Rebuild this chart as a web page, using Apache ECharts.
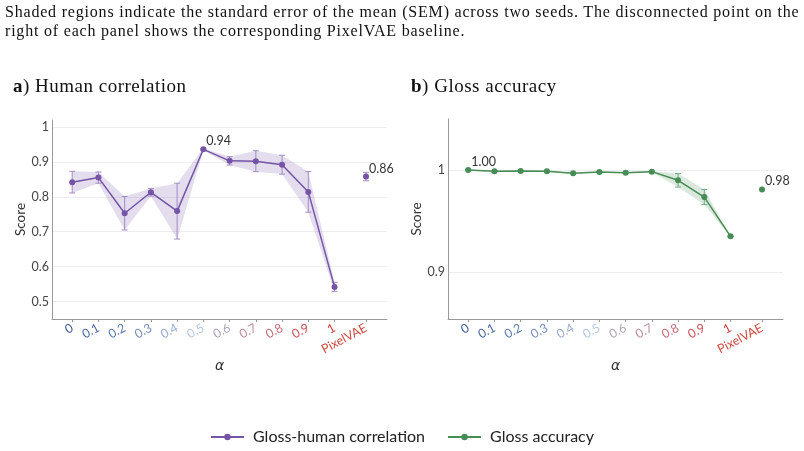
<!DOCTYPE html>
<html>
<head>
<meta charset="utf-8">
<script src="https://cdn.jsdelivr.net/npm/echarts@6/dist/echarts.min.js"></script>
<style>
  html, body { margin: 0; padding: 0; background: #fff; }
  #wrap { position: relative; width: 804px; height: 451px; }
  #chart { position: absolute; left: 0; top: 0; width: 804px; height: 451px; }
  .cap { position: absolute; left: 5px; top: 2px; font-family: 'Liberation Serif'; font-size: 16px;
    line-height: 19px; letter-spacing: 0.8px; color: #111; white-space: nowrap; }
  .ptitle { position: absolute; top: 75px; font-family: 'Liberation Serif'; font-size: 19px;
    letter-spacing: 0.5px; color: #111; white-space: nowrap; }
</style>
</head>
<body>
<div id="wrap">
  <div id="chart"></div>
  <div class="cap">Shaded regions indicate the standard error of the mean (SEM) across two seeds. The disconnected point on the<br>right of each panel shows the corresponding PixelVAE baseline.</div>
  <div class="ptitle" style="left:13px"><b>a</b>) Human correlation</div>
  <div class="ptitle" style="left:411px"><b>b</b>) Gloss accuracy</div>
</div>
<script>
// alpha values and tick labels
const alphas = [0, 0.1, 0.2, 0.3, 0.4, 0.5, 0.6, 0.7, 0.8, 0.9, 1];
const pixelX = 1.12;
const xTicks = [0, 0.1, 0.2, 0.3, 0.4, 0.5, 0.6, 0.7, 0.8, 0.9, 1, 1.12];
const xTickLabels = ['0', '0.1', '0.2', '0.3', '0.4', '0.5', '0.6', '0.7', '0.8', '0.9', '1', 'PixelVAE'];
const xTickColors = ['#3d5d92', '#4a6aa0', '#5b7db0', '#7892bd', '#98aed2', '#b5c9e3',
  '#b3a6bc', '#bf8d98', '#c77078', '#cc5558', '#d03b3b', '#d04a42'];

// a) human correlation
const corrMean = [0.842, 0.855, 0.753, 0.813, 0.759, 0.936, 0.903, 0.902, 0.892, 0.814, 0.542];
const corrSem = [0.031, 0.016, 0.048, 0.011, 0.080, 0.003, 0.012, 0.030, 0.027, 0.058, 0.013];
const pixelCorr = 0.858;
const pixelCorrSem = 0.012;

// b) gloss accuracy
const accMean = [1.000, 0.9987, 0.999, 0.9987, 0.9968, 0.998, 0.9974, 0.9984, 0.9899, 0.9735, 0.935];
const accSem = [0.0006, 0.0006, 0.0006, 0.0006, 0.0006, 0.0006, 0.0006, 0.0006, 0.0066, 0.0074, 0.0004];
const pixelAcc = 0.981;
const pixelAccSem = 0.0004;

const purple = '#7554a6';
const green = '#468c55';

const myChart = echarts.init(document.getElementById('chart'));

function tickIndex(v) {
  return xTicks.findIndex(t => Math.abs(t - Number(v)) < 1e-6);
}

function xAxisOpt(gridIndex) {
  return {
    type: 'value', gridIndex: gridIndex, min: -0.077, max: 1.2,
    name: 'α', nameLocation: 'middle', nameGap: 40,
    nameTextStyle: { fontSize: 14, fontStyle: 'italic', color: '#333', fontFamily: 'DejaVu Sans' },
    axisLine: { onZero: false, lineStyle: { color: '#999' } },
    axisTick: { show: true, length: 3, customValues: xTicks, lineStyle: { color: '#999' } },
    splitLine: { show: false },
    axisLabel: {
      customValues: xTicks, rotate: 28, margin: 8, fontSize: 12.5, fontFamily: 'Lato',
      formatter: (v) => {
        const i = tickIndex(v);
        return i < 0 ? '' : xTickLabels[i];
      },
      color: (v) => {
        const i = tickIndex(v);
        return i < 0 ? '#444' : xTickColors[i];
      }
    }
  };
}

function yAxisOpt(gridIndex, min, max, ticks) {
  return {
    type: 'value', gridIndex: gridIndex, min: min, max: max,
    name: 'Score', nameLocation: 'middle', nameGap: 19,
    nameTextStyle: { fontSize: 13.5, color: '#333', fontFamily: 'Lato' },
    axisLine: { show: true, onZero: false, lineStyle: { color: '#999' } },
    axisTick: { show: false, customValues: ticks },
    splitLine: { show: true, lineStyle: { color: '#eeeeee' } },
    axisLabel: { customValues: ticks, color: '#444', fontSize: 12.5, fontFamily: 'Lato', margin: 3 }
  };
}

function bandSeries(idx, mean, sem, color) {
  return {
    type: 'custom', xAxisIndex: idx, yAxisIndex: idx, silent: true, z: 1,
    data: [0],
    renderItem: (params, api) => {
      const pts = [];
      alphas.forEach((a, i) => pts.push(api.coord([a, mean[i] + sem[i]])));
      for (let i = alphas.length - 1; i >= 0; i--) pts.push(api.coord([alphas[i], mean[i] - sem[i]]));
      return { type: 'polygon', shape: { points: pts }, style: { fill: color } };
    }
  };
}

function errSeries(idx, xs, mean, sem, color) {
  return {
    type: 'custom', xAxisIndex: idx, yAxisIndex: idx, silent: true, z: 2,
    data: xs.map((x, i) => [x, mean[i] - sem[i], mean[i] + sem[i]]),
    renderItem: (params, api) => {
      const lo = api.coord([api.value(0), api.value(1)]);
      const hi = api.coord([api.value(0), api.value(2)]);
      const st = { stroke: color, lineWidth: 1 };
      return {
        type: 'group', children: [
          { type: 'line', shape: { x1: lo[0], y1: lo[1], x2: hi[0], y2: hi[1] }, style: st },
          { type: 'line', shape: { x1: lo[0] - 3, y1: lo[1], x2: lo[0] + 3, y2: lo[1] }, style: st },
          { type: 'line', shape: { x1: hi[0] - 3, y1: hi[1], x2: hi[0] + 3, y2: hi[1] }, style: st }
        ]
      };
    }
  };
}

const valLabel = {
  show: true, position: 'right', distance: 0, offset: [0, -8],
  formatter: (p) => p.value[1].toFixed(2),
  color: '#333', fontSize: 12.5, fontFamily: 'Lato'
};

function lineData(mean, labelIdx) {
  return alphas.map((a, i) => i === labelIdx ? { value: [a, mean[i]], label: valLabel } : [a, mean[i]]);
}

myChart.setOption({
  animation: false,
  legend: {
    top: 424, left: 'center', itemWidth: 33, itemHeight: 8, itemGap: 22,
    textStyle: { fontSize: 16, color: '#222', fontFamily: 'Lato', padding: [0, 0, 0, 4] },
    data: ['Gloss-human correlation', 'Gloss accuracy']
  },
  grid: [
    { left: 52, top: 120, width: 335, height: 199 },
    { left: 448, top: 119, width: 335, height: 200 }
  ],
  xAxis: [xAxisOpt(0), xAxisOpt(1)],
  yAxis: [
    yAxisOpt(0, 0.45, 1.02, [0.5, 0.6, 0.7, 0.8, 0.9, 1]),
    yAxisOpt(1, 0.854, 1.05, [0.9, 1])
  ],
  series: [
    bandSeries(0, corrMean, corrSem, 'rgba(117,84,166,0.2)'),
    errSeries(0, alphas.concat([pixelX]), corrMean.concat([pixelCorr]), corrSem.concat([pixelCorrSem]), '#a08cc6'),
    {
      name: 'Gloss-human correlation', type: 'line', xAxisIndex: 0, yAxisIndex: 0, z: 3,
      data: lineData(corrMean, corrMean.indexOf(Math.max(...corrMean))),
      symbol: 'circle', symbolSize: 6, showAllSymbol: true,
      itemStyle: { color: purple }, lineStyle: { color: purple, width: 1.5 }
    },
    {
      name: 'Gloss-human correlation', type: 'scatter', xAxisIndex: 0, yAxisIndex: 0, z: 3,
      data: [[pixelX, pixelCorr]], symbolSize: 6, itemStyle: { color: purple, opacity: 1 }, label: valLabel
    },
    bandSeries(1, accMean, accSem, 'rgba(70,140,85,0.2)'),
    errSeries(1, alphas, accMean, accSem, '#6fae80'),
    {
      name: 'Gloss accuracy', type: 'line', xAxisIndex: 1, yAxisIndex: 1, z: 3,
      data: lineData(accMean, 0),
      symbol: 'circle', symbolSize: 6, showAllSymbol: true,
      itemStyle: { color: green }, lineStyle: { color: green, width: 1.5 }
    },
    {
      name: 'Gloss accuracy', type: 'scatter', xAxisIndex: 1, yAxisIndex: 1, z: 3,
      data: [[pixelX, pixelAcc]], symbolSize: 6, itemStyle: { color: green, opacity: 1 }, label: valLabel
    }
  ]
});
</script>
</body>
</html>
